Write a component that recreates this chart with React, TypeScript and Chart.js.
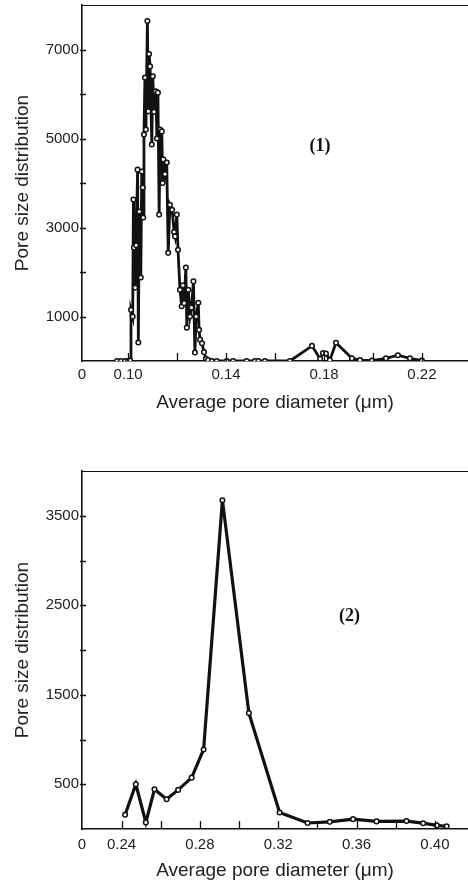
import { useEffect, useRef } from 'react';
import { Chart, registerables } from 'chart.js';

Chart.register(...registerables);

// ---------- Data: panel (1) ----------
const diam1 = [
  0.0955, 0.0971, 0.0988, 0.1000, 0.1008, 0.1012, 0.1019, 0.1022, 0.1024, 0.1029,
  0.1033, 0.1039, 0.1042, 0.1046, 0.1052, 0.1056, 0.1060, 0.1062, 0.1065, 0.1069,
  0.1073, 0.1079, 0.1083, 0.1086, 0.1090, 0.1097, 0.1101, 0.1106, 0.1113, 0.1118,
  0.1122, 0.1127, 0.1131, 0.1138, 0.1141, 0.1144, 0.1151, 0.1158, 0.1164, 0.1171,
  0.1180, 0.1188, 0.1192, 0.1199, 0.1204, 0.1212, 0.1219, 0.1224, 0.1229, 0.1236,
  0.1240, 0.1246, 0.1253, 0.1259, 0.1267, 0.1273, 0.1278, 0.1287, 0.1290, 0.1294,
  0.1302, 0.1310, 0.1318, 0.1327,
  0.1342, 0.1362, 0.1403, 0.1429, 0.1484, 0.1518, 0.1532, 0.1559, 0.1661, 0.1751,
  0.1784, 0.1796, 0.1808, 0.1824, 0.1849, 0.1914, 0.1947, 0.1996, 0.2053, 0.2102,
  0.2151, 0.2200,
];
const dist1 = [
  0, 0, 0, 0, 10, 1150, 1000, 3630, 2550, 1650,
  2600, 4300, 415, 3360, 1875, 4260, 3900, 3225, 5090, 6370,
  5200, 7640, 5610, 6900, 6620, 4865, 6400, 5600, 6060, 5000,
  6030, 3290, 5200, 5160, 4000, 4530, 4200, 4460, 2430, 3510,
  3400, 2900, 2800, 3290, 2500, 1600, 1230, 1700, 1300, 2100,
  750, 1600, 1000, 1200, 1790, 190, 1000, 1310, 700, 480,
  400, 200, 50, 20,
  0, 0, 0, 0, 0, 0, 0, 0, 0, 340,
  50, 180, 170, 20, 410, 60, 20, 10, 60, 130,
  60, 10,
];

// ---------- Data: panel (2) ----------
const diam2 = [
  0.2418, 0.2473, 0.2524, 0.2568, 0.2630, 0.2689, 0.2758, 0.2819, 0.2915, 0.3050,
  0.3207, 0.3350, 0.3463, 0.3582, 0.3702, 0.3855, 0.3940, 0.4010, 0.4060,
];
const dist2 = [
  159, 500, 74, 444, 333, 437, 574, 889, 3674, 1296,
  185, 67, 80, 110, 85, 88, 65, 40, 30,
];

// ---------- Axes / labels ----------
const xTicks1 = [0.10, 0.12, 0.14, 0.16, 0.18, 0.20, 0.22];
const xTickLabels1 = ['0.10', '', '0.14', '', '0.18', '', '0.22'];
const yTickLabels1 = ['1000', '3000', '5000', '7000'];

const xTicks2 = [0.24, 0.26, 0.28, 0.30, 0.32, 0.34, 0.36, 0.38, 0.40];
const xTickLabels2 = ['0.24', '', '0.28', '', '0.32', '', '0.36', '', '0.40'];
const yTickLabels2 = ['500', '1500', '2500', '3500'];

const originLabel = '0';
const xTitle = 'Average pore diameter (\u03bcm)';
const yTitle = 'Pore size distribution';
const panelLabels = ['(1)', '(2)'];

const SANS = '"Liberation Sans", Arial, Helvetica, sans-serif';
const INK = '#111';

const framePlugin = {
  id: 'frame',
  afterDraw(chart: any, _args: any, opts: any) {
    const { ctx, chartArea: a, scales } = chart;
    const xs = scales.x;
    const ys = scales.y;
    ctx.save();
    ctx.strokeStyle = INK;
    ctx.lineWidth = 1.2;
    ctx.beginPath();
    ctx.moveTo(a.left, a.top + 0.5);
    ctx.lineTo(a.right, a.top + 0.5);
    ctx.stroke();
    ctx.lineWidth = 1.3;
    ctx.beginPath();
    xs.ticks.forEach((t: any) => {
      if (t.value <= xs.min) return;
      const px = Math.round(xs.getPixelForValue(t.value)) + 0.5;
      ctx.moveTo(px, a.bottom);
      ctx.lineTo(px, a.bottom - 8);
    });
    ys.ticks.forEach((t: any) => {
      if (t.value <= ys.min || t.value >= ys.max) return;
      const py = Math.round(ys.getPixelForValue(t.value)) + 0.5;
      ctx.moveTo(a.left - 2, py);
      ctx.lineTo(a.left + 4, py);
    });
    ctx.stroke();
    ctx.font = 'bold 18px "Liberation Serif", "Times New Roman", serif';
    ctx.fillStyle = INK;
    ctx.textAlign = 'center';
    ctx.textBaseline = 'middle';
    ctx.fillText(opts.text, xs.getPixelForValue(opts.x), ys.getPixelForValue(opts.y));
    ctx.restore();
  },
};

type PanelProps = {
  xs: number[];
  ys: number[];
  xMin: number;
  xMax: number;
  yMax: number;
  yStep: number;
  xTicks: number[];
  xTickLabels: string[];
  yTickLabels: string[];
  label: string;
  labelX: number;
  labelY: number;
  height: number;
  padTop: number;
  xScaleHeight: number;
  xTickPad: number;
  xTitlePadBottom: number;
  lineWidth: number;
};

function Panel(p: PanelProps) {
  const ref = useRef<HTMLCanvasElement | null>(null);
  useEffect(() => {
    if (!ref.current) return;
    const chart = new Chart(ref.current, {
      type: 'scatter',
      data: {
        datasets: [
          {
            data: p.xs.map((x, i) => ({ x, y: p.ys[i] })),
            showLine: true,
            borderColor: INK,
            borderWidth: p.lineWidth,
            tension: 0,
            pointRadius: 2.3,
            pointBackgroundColor: '#fff',
            pointBorderColor: INK,
            pointBorderWidth: 1.5,
          },
        ],
      },
      options: {
        animation: false,
        responsive: false,
        devicePixelRatio: 1,
        layout: { autoPadding: false, padding: { top: p.padTop, left: 0, right: 0, bottom: 0 } },
        plugins: {
          legend: { display: false },
          tooltip: { enabled: false },
          frame: { text: p.label, x: p.labelX, y: p.labelY },
        } as any,
        scales: {
          x: {
            type: 'linear',
            min: p.xMin,
            max: p.xMax,
            grid: { display: false, drawTicks: false, tickLength: 0 },
            border: { display: true, color: INK, width: 1.6 },
            afterBuildTicks: (s: any) => {
              s.ticks = [p.xMin, ...p.xTicks].map((v) => ({ value: v }));
            },
            afterFit: (s: any) => {
              s.height = p.xScaleHeight;
              s.paddingLeft = 0;
              s.paddingRight = 0;
              s.paddingTop = 0;
              s.paddingBottom = 0;
            },
            ticks: {
              autoSkip: false,
              maxRotation: 0,
              padding: p.xTickPad,
              color: '#222',
              font: { family: SANS, size: 15 },
              callback: (_v: any, i: number) => (i === 0 ? originLabel : p.xTickLabels[i - 1]),
            },
            title: {
              display: true,
              text: xTitle,
              color: '#222',
              font: { family: SANS, size: 19, lineHeight: 1 },
              padding: { top: 0, bottom: p.xTitlePadBottom },
            },
          },
          y: {
            type: 'linear',
            min: 0,
            max: p.yMax,
            grid: { display: false, drawTicks: false, tickLength: 0 },
            border: { display: true, color: INK, width: 1.6 },
            afterFit: (s: any) => {
              s.width = 82;
              s.paddingLeft = 0;
              s.paddingRight = 0;
              s.paddingTop = 0;
              s.paddingBottom = 0;
            },
            ticks: {
              stepSize: p.yStep,
              autoSkip: false,
              padding: 3,
              color: '#222',
              font: { family: SANS, size: 15 },
              callback: (v: any) => (p.yTickLabels.includes(String(v)) ? String(v) : ''),
            },
            title: {
              display: true,
              text: yTitle,
              color: '#222',
              font: { family: SANS, size: 19, lineHeight: 1 },
              padding: { top: 13.5, bottom: 0 },
            },
          },
        },
      },
      plugins: [framePlugin],
    });
    return () => chart.destroy();
  }, []);
  return <canvas ref={ref} width={468} height={p.height} style={{ display: 'block' }} />;
}

export default function App() {
  return (
    <div style={{ position: 'absolute', left: 0, top: 0, width: 468, height: 884, background: '#fff' }}>
      <div style={{ position: 'absolute', left: 0, top: 0 }}>
        <Panel
          xs={diam1}
          ys={dist1}
          xMin={0.0812}
          xMax={0.2388}
          yMax={8000}
          yStep={1000}
          xTicks={xTicks1}
          xTickLabels={xTickLabels1}
          yTickLabels={yTickLabels1}
          label={panelLabels[0]}
          labelX={0.1784}
          labelY={4820}
          height={420}
          padTop={5}
          xScaleHeight={59}
          xTickPad={5}
          xTitlePadBottom={7.5}
          lineWidth={2.8}
        />
      </div>
      <div style={{ position: 'absolute', left: 0, top: 426 }}>
        <Panel
          xs={diam2}
          ys={dist2}
          xMin={0.2198}
          xMax={0.4169}
          yMax={4000}
          yStep={500}
          xTicks={xTicks2}
          xTickLabels={xTickLabels2}
          yTickLabels={yTickLabels2}
          label={panelLabels[1]}
          labelX={0.3564}
          labelY={2380}
          height={458}
          padTop={45}
          xScaleHeight={55}
          xTickPad={7}
          xTitlePadBottom={3.5}
          lineWidth={3.2}
        />
      </div>
    </div>
  );
}
